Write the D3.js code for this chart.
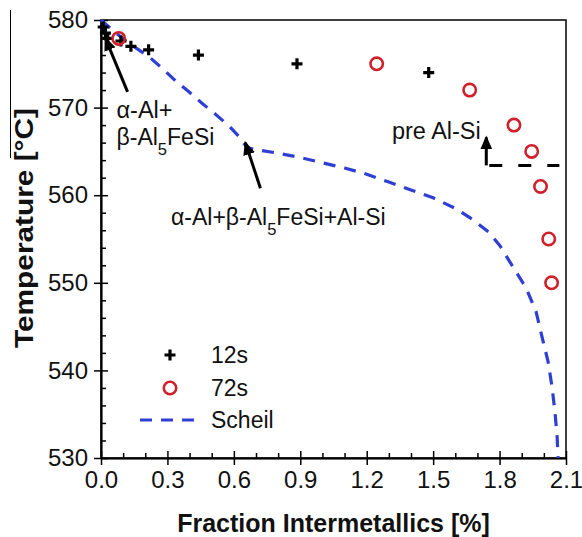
<!DOCTYPE html>
<html>
<head>
<meta charset="utf-8">
<script src="https://cdn.jsdelivr.net/npm/d3@7"></script>
<style>
  body { margin: 0; background: #fff; }
  text { font-family: "Liberation Sans", Arial, sans-serif; fill: #111; }
</style>
</head>
<body>
<div id="chart"></div>
<script>
// data
const xTicks = [0, 0.3, 0.6, 0.9, 1.2, 1.5, 1.8, 2.1];
const yTicks = [530, 540, 550, 560, 570, 580];

const series12s = [
  [0.01, 579.2], [0.02, 578.5], [0.03, 577.9], [0.09, 577.6],
  [0.135, 577.0], [0.215, 576.6], [0.44, 576.0], [0.885, 575.0], [1.48, 574.0]
];
const series72s = [
  [0.08, 577.9], [1.245, 575.0], [1.665, 572.0], [1.865, 568.0],
  [1.945, 565.0], [1.985, 561.0], [2.022, 555.0], [2.035, 550.0]
];
const scheil = [
  [0.0, 580.0], [0.05, 578.9], [0.117, 577.5], [0.217, 575.8], [0.276, 574.5],
  [0.339, 573.0], [0.397, 571.8], [0.456, 570.5], [0.519, 569.2], [0.578, 567.9],
  [0.623, 566.7], [0.66, 565.4], [0.70, 565.2], [0.80, 564.8], [0.90, 564.3],
  [1.00, 563.7], [1.10, 563.1], [1.20, 562.4], [1.30, 561.5], [1.40, 560.6],
  [1.50, 559.7], [1.60, 558.5], [1.68, 557.2], [1.75, 555.8], [1.80, 554.3],
  [1.856, 552.0], [1.92, 549.4], [1.965, 546.7], [1.992, 543.8], [2.019, 541.0],
  [2.037, 538.1], [2.05, 535.3], [2.06, 532.4], [2.064, 530.0]
];
const seriesNames = ["12s", "72s", "Scheil"];

const width = 582, height = 537;
const margin = { top: 20, right: 16, bottom: 79, left: 101 };
const w = width - margin.left - margin.right;
const h = height - margin.top - margin.bottom;

const svg = d3.select("#chart").append("svg")
  .attr("width", width).attr("height", height);

const defs = svg.append("defs");
defs.append("marker")
  .attr("id", "head")
  .attr("markerUnits", "userSpaceOnUse")
  .attr("viewBox", "0 0 14 12")
  .attr("refX", 12).attr("refY", 6)
  .attr("markerWidth", 14).attr("markerHeight", 12)
  .attr("orient", "auto")
  .append("path").attr("d", "M0,0L14,6L0,12Z").attr("fill", "#000");

const x = d3.scaleLinear().domain([0, 2.1]).range([0, w]);
const y = d3.scaleLinear().domain([530, 580]).range([h, 0]);

const g = svg.append("g").attr("transform", `translate(${margin.left},${margin.top})`);

// frame
g.append("rect").attr("width", w).attr("height", h)
  .attr("fill", "none").attr("stroke", "#000").attr("stroke-width", 1.5);

const xMinor = d3.range(0, 2.11, 0.1).filter(v => Math.abs(v / 0.3 - Math.round(v / 0.3)) > 1e-6);
const yMinor = d3.range(530, 581, 2).filter(v => v % 10 !== 0);

function styleAxis(sel) {
  sel.select(".domain").attr("stroke-width", 1.5);
  sel.selectAll(".tick line").attr("stroke-width", 1.5);
  sel.selectAll("text").attr("font-size", 24).attr("fill", "#111");
}

// x axis
g.append("g").attr("transform", `translate(0,${h})`)
  .call(d3.axisBottom(x).tickValues(xTicks).tickFormat(d3.format(".1f"))
    .tickSizeInner(7).tickSizeOuter(0).tickPadding(6))
  .call(styleAxis);
g.append("g").attr("transform", `translate(0,${h})`)
  .call(d3.axisTop(x).tickValues(xTicks).tickFormat("").tickSizeInner(7).tickSizeOuter(0))
  .call(styleAxis);
g.append("g").attr("transform", `translate(0,${h})`)
  .call(d3.axisTop(x).tickValues(xMinor).tickFormat("").tickSizeInner(5).tickSizeOuter(0))
  .call(styleAxis);

// y axis
g.append("g")
  .call(d3.axisLeft(y).tickValues(yTicks).tickSizeInner(7).tickSizeOuter(0).tickPadding(6))
  .call(styleAxis);
g.append("g")
  .call(d3.axisRight(y).tickValues(yTicks).tickFormat("").tickSizeInner(7).tickSizeOuter(0))
  .call(styleAxis);
g.append("g")
  .call(d3.axisRight(y).tickValues(yMinor).tickFormat("").tickSizeInner(5).tickSizeOuter(0))
  .call(styleAxis);

// axis titles
svg.append("text")
  .attr("x", margin.left + w / 2).attr("y", 532)
  .attr("text-anchor", "middle").attr("font-size", 25).attr("font-weight", "bold")
  .text("Fraction Intermetallics [%]");
svg.append("text")
  .attr("transform", "translate(33,228) rotate(-90)")
  .attr("text-anchor", "middle").attr("font-size", 25).attr("font-weight", "bold")
  .attr("textLength", 240).attr("lengthAdjust", "spacingAndGlyphs")
  .text("Temperature [°C]");
svg.append("line").attr("x1", 10.5).attr("x2", 10.5).attr("y1", 10).attr("y2", 158)
  .attr("stroke", "#000").attr("stroke-width", 1);

// Scheil line
const line = d3.line().x(d => x(d[0])).y(d => y(d[1]));
g.append("path").datum(scheil)
  .attr("d", line).attr("fill", "none")
  .attr("stroke", "#2f3fd4").attr("stroke-width", 3.2)
  .attr("stroke-dasharray", "12,9");

// 12s crosses
const plus = "M-5.5,0H5.5M0,-5.5V5.5";
g.append("g").selectAll("path").data(series12s).join("path")
  .attr("transform", d => `translate(${x(d[0])},${y(d[1])})`)
  .attr("d", plus).attr("stroke", "#000").attr("stroke-width", 3.2);

// 72s circles
g.append("g").selectAll("circle").data(series72s).join("circle")
  .attr("cx", d => x(d[0])).attr("cy", d => y(d[1])).attr("r", 6.2)
  .attr("fill", "none").attr("stroke", "#d0202a").attr("stroke-width", 2.6);

// annotations
const ann = g.append("g");
function arrow(x1, y1, x2, y2) {
  ann.append("line")
    .attr("x1", x(x1)).attr("y1", y(y1)).attr("x2", x(x2)).attr("y2", y(y2))
    .attr("stroke", "#000").attr("stroke-width", 3).attr("marker-end", "url(#head)");
}
arrow(0.12, 571.8, 0.02, 577.9);
arrow(0.72, 560.8, 0.652, 566.0);
arrow(1.74, 563.4, 1.74, 566.6);
ann.append("line")
  .attr("x1", x(1.74)).attr("x2", x(2.07)).attr("y1", y(563.4)).attr("y2", y(563.4))
  .attr("stroke", "#000").attr("stroke-width", 3).attr("stroke-dasharray", "0,3,13,13");

function label(tx, ty, parts, size) {
  const t = ann.append("text").attr("x", x(tx)).attr("y", y(ty)).attr("font-size", size);
  parts.forEach(p => {
    if (p.sub) {
      t.append("tspan").attr("baseline-shift", "sub").attr("font-size", size * 0.72).text(p.t);
    } else {
      t.append("tspan").text(p.t);
    }
  });
}
label(0.07, 568.8, [{ t: "α-Al+" }], 23.5);
label(0.07, 565.7, [{ t: "β-Al" }, { t: "5", sub: true }, { t: "FeSi" }], 23);
label(0.316, 556.6, [{ t: "α-Al+β-Al" }, { t: "5", sub: true }, { t: "FeSi+Al-Si" }], 23);
label(1.314, 566.4, [{ t: "pre Al-Si" }], 23.5);

// legend
const lg = svg.append("g").attr("transform", "translate(170,0)");
lg.append("path").attr("transform", "translate(0,355)").attr("d", plus)
  .attr("stroke", "#000").attr("stroke-width", 3.2);
lg.append("circle").attr("cx", 0).attr("cy", 388).attr("r", 6.2)
  .attr("fill", "none").attr("stroke", "#d0202a").attr("stroke-width", 2.6);
lg.append("line").attr("x1", -30).attr("x2", 32).attr("y1", 420).attr("y2", 420)
  .attr("stroke", "#2f3fd4").attr("stroke-width", 3.2).attr("stroke-dasharray", "12,9");
lg.selectAll("text.lab").data(seriesNames).join("text").attr("class", "lab")
  .attr("x", 41).attr("y", (d, i) => 355 + i * 32.5).attr("dy", "0.35em")
  .attr("font-size", 23).text(d => d);
</script>
</body>
</html>
